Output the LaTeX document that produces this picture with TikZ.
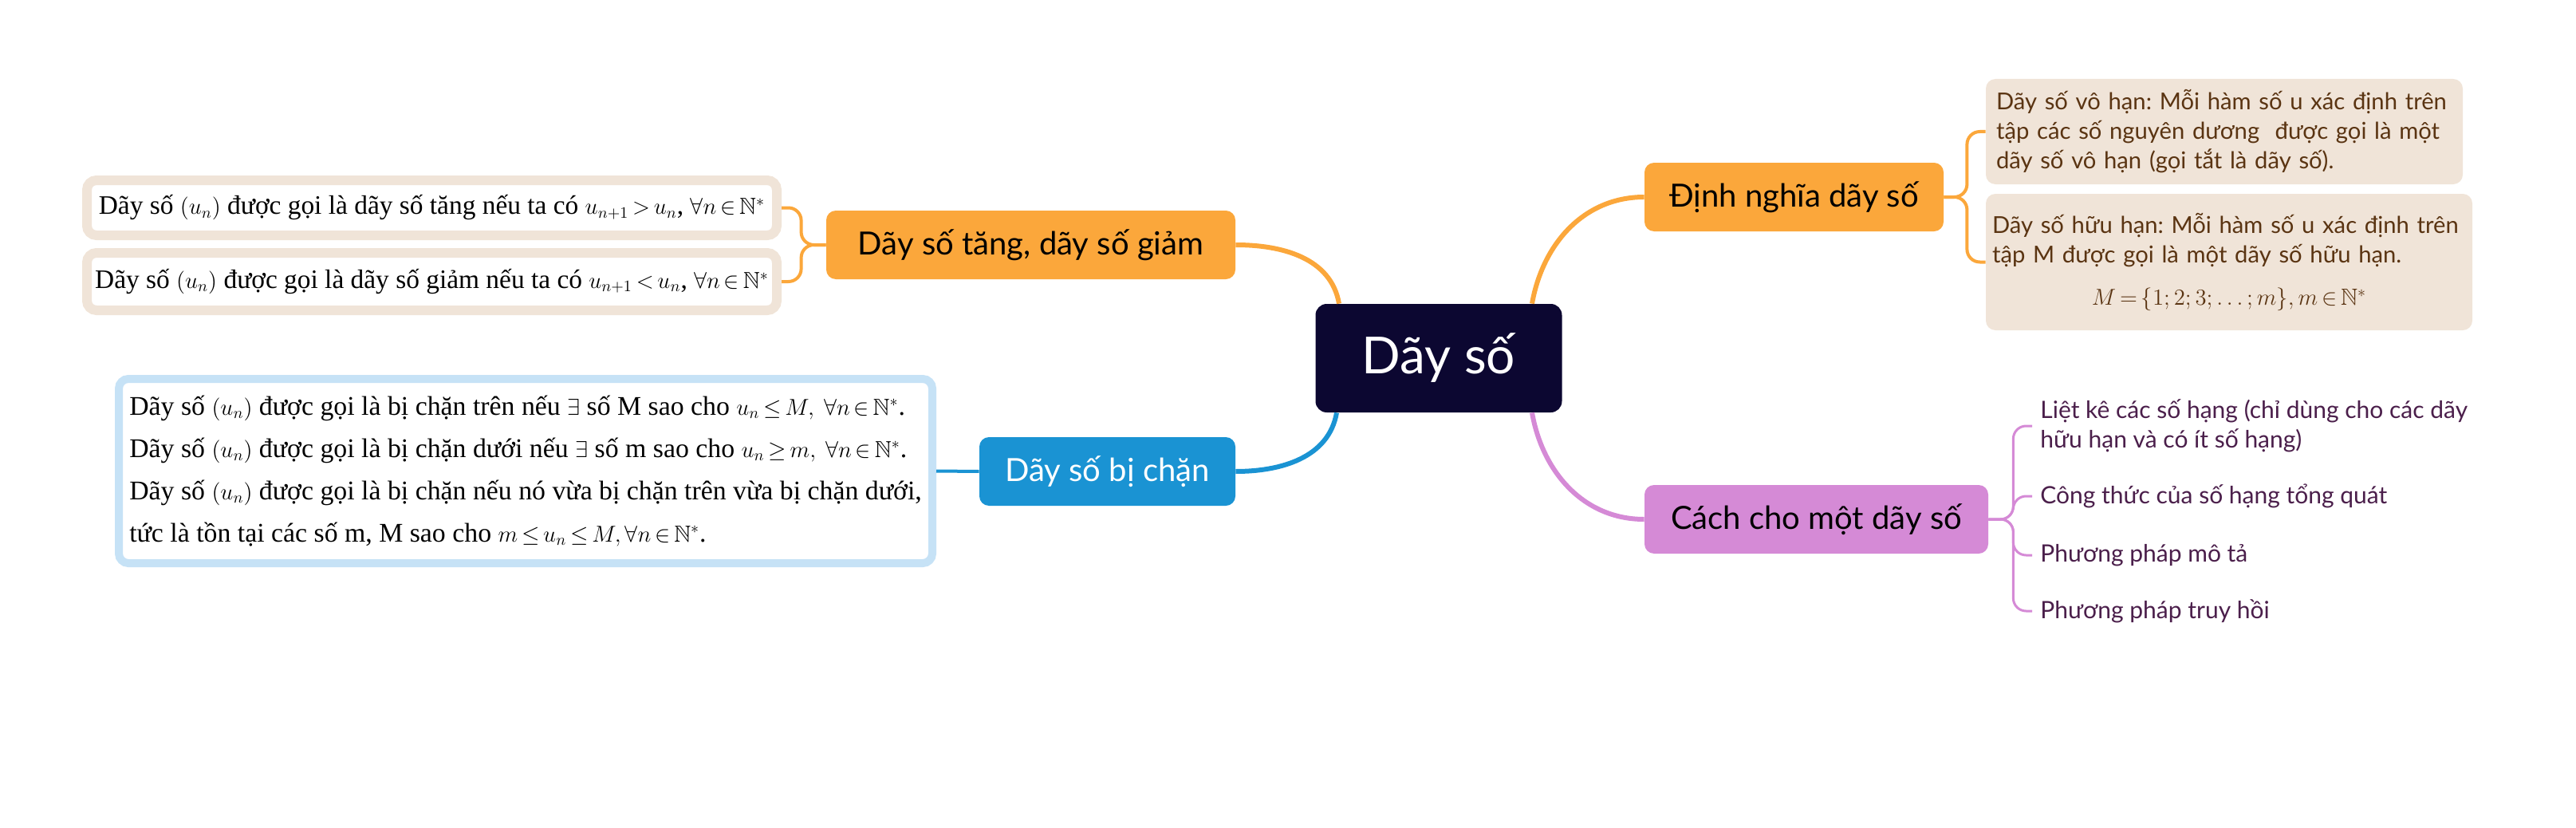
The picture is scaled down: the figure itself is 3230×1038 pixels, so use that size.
\documentclass[tikz,border=0pt]{standalone}
\usepackage{amssymb}
\usepackage{fontspec}
\setmainfont{Liberation Serif}
\setsansfont{Lato}
\definecolor{navy}{HTML}{0C0731}
\definecolor{orng}{HTML}{FBA73B}
\definecolor{blu}{HTML}{1A93D3}
\definecolor{purp}{HTML}{D58AD6}
\definecolor{beige}{HTML}{F0E4D8}
\definecolor{lblue}{HTML}{C6E2F6}
\definecolor{brown}{HTML}{5A3412}
\definecolor{ptext}{HTML}{4B1F4B}
\frenchspacing
\thickmuskip=3mu plus 2mu
\medmuskip=2mu
\newcommand{\mth}[1]{{\fontsize{14.5}{16}\selectfont$#1$}}
\begin{document}
\begin{tikzpicture}[x=0.5pt,y=0.5pt,
		topic/.style={rounded corners=6pt,inner sep=0pt,minimum height=43pt,font=\sffamily\fontsize{20}{24}\selectfont},
		card/.style={rounded corners=6pt,fill=white,line width=6pt,inner sep=0pt,align=left,font=\fontsize{16.7}{19}\selectfont},
		note/.style={rounded corners=6pt,fill=beige,inner sep=0pt,align=left,text=brown,font=\sffamily\fontsize{14.6}{18.5}\selectfont},
		leaf/.style={anchor=west,inner sep=0pt,align=left,text=ptext,font=\sffamily\fontsize{15}{18.5}\selectfont}]
		\useasboundingbox (0,0) rectangle (3230,-1038);
		\node[rounded corners=7pt,fill=navy,text=white,minimum width=154.5pt,minimum height=68pt,font=\sffamily\fontsize{32}{38}\selectfont] (root) at (1804,-449) {Dãy số};
		\node[topic,fill=orng,minimum width=256.5pt] (tg) at (1292.5,-307) {Dãy số tăng, dãy số giảm};
		\node[topic,fill=blu,text=white,minimum width=160.5pt] (bc) at (1388.5,-591) {Dãy số bị chặn};
		\node[topic,fill=orng,minimum width=187.5pt] (dn) at (2249.5,-247) {Định nghĩa dãy số};
		\node[topic,fill=purp,minimum width=215.5pt] (cc) at (2277.5,-651) {Cách cho một dãy số};
		\node[card,draw=beige,minimum width=432.5pt,minimum height=34.5pt] (c1) at (541.5,-260.5) {Dãy số \mth{\left(u_n\right)} được gọi là dãy số tăng nếu ta có \mth{u_{n+1}>u_n}, \mth{\forall n\in\mathbb{N}^*}};
		\node[card,draw=beige,minimum width=432.5pt,minimum height=36pt] (c2) at (541.5,-353) {Dãy số \mth{\left(u_n\right)} được gọi là dãy số giảm nếu ta có \mth{u_{n+1}<u_n}, \mth{\forall n\in\mathbb{N}^*}};
		\node[card,draw=lblue,line width=5pt,minimum width=510pt,minimum height=115.5pt,font=\fontsize{16.9}{26.5}\selectfont] (cb) at (659,-590.5) {Dãy số \mth{\left(u_n\right)} được gọi là bị chặn trên nếu \mth{\exists} số M sao cho \mth{u_n\le M,\ \forall n\in\mathbb{N}^*}.\\
			Dãy số \mth{\left(u_n\right)} được gọi là bị chặn dưới nếu \mth{\exists} số m sao cho \mth{u_n\ge m,\ \forall n\in\mathbb{N}^*}.\\
			Dãy số \mth{\left(u_n\right)} được gọi là bị chặn nếu nó vừa bị chặn trên vừa bị chặn dưới,\\
			tức là tồn tại các số m, M sao cho \mth{m\le u_n\le M, \forall n\in\mathbb{N}^*}.};
		\node[note,minimum width=299pt,minimum height=66pt,text width=286pt] (vh) at (2789,-165) {Dãy số vô hạn: Mỗi hàm số u xác định trên\\tập các số nguyên dương\ \ được gọi là một\\dãy số vô hạn (gọi tắt là dãy số).};
		\node[note,minimum width=305pt,minimum height=85.5pt,text width=297pt] (hh) at (2795,-328.5) {Dãy số hữu hạn: Mỗi hàm số u xác định trên\\tập M được gọi là một dãy số hữu hạn.\\[8pt]\makebox[\linewidth]{$M=\{1;2;3;\dots;m\},m\in\mathbb{N}^*$}};
		\node[leaf] (l1) at (2558,-534) {Liệt kê các số hạng (chỉ dùng cho các dãy\\hữu hạn và có ít số hạng)};
		\node[leaf] (l2) at (2558,-622) {Công thức của số hạng tổng quát};
		\node[leaf] (l3) at (2558,-696) {Phương pháp mô tả};
		\node[leaf] (l4) at (2558,-766) {Phương pháp truy hồi};
		\draw[orng,line width=3pt] ([xshift=-62.5pt]root.north) to[out=100,in=0] (tg.east);
		\draw[blu,line width=3pt] ([xshift=-64pt]root.south) to[out=-100,in=0] (bc.east);
		\draw[orng,line width=3pt] ([xshift=58.5pt]root.north) to[out=80,in=180] (dn.west);
		\draw[purp,line width=3pt] ([xshift=58.5pt]root.south) to[out=-80,in=180] (cc.west);
		\draw[orng,line width=2pt,rounded corners=8pt] (tg.west) -- ++(-31,0) |- (c1.east);
		\draw[orng,line width=2pt,rounded corners=8pt] (tg.west) -- ++(-31,0) |- (c2.east);
		\draw[blu,line width=2pt] (bc.west) -- (cb.east);
		\draw[orng,line width=2pt,rounded corners=8pt] (dn.east) -- ++(29,0) |- (vh.west);
		\draw[orng,line width=2pt,rounded corners=8pt] (dn.east) -- ++(29,0) |- (hh.west);
		\foreach \n in {l1,l2,l3,l4}
			\draw[purp,line width=1.5pt,rounded corners=8pt] (cc.east) -- ++(31,0) |- ([xshift=-5pt]\n.west);
	\end{tikzpicture}
\end{document}
